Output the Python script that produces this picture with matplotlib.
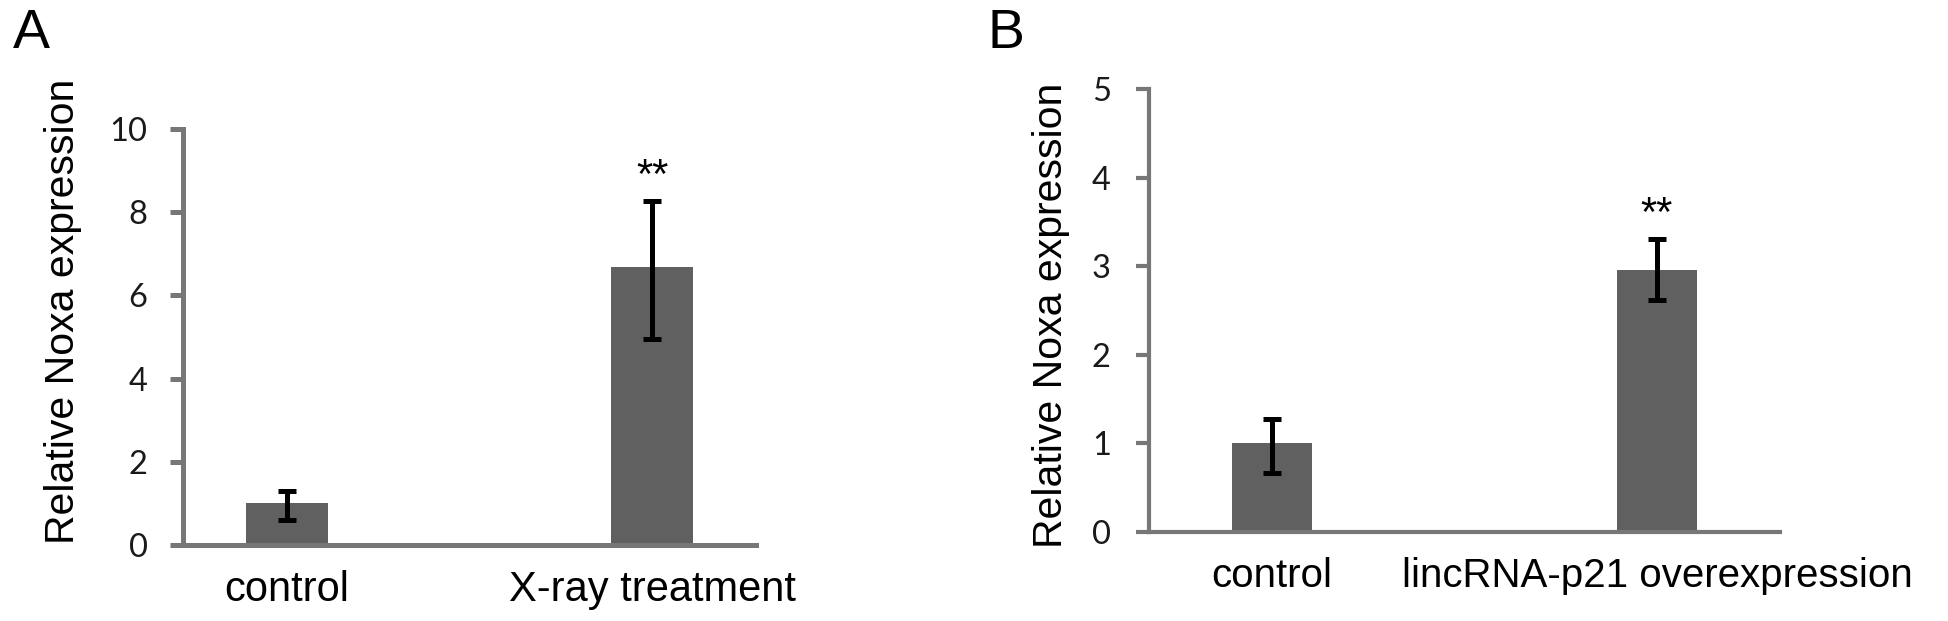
import matplotlib
matplotlib.use("Agg")
import matplotlib.pyplot as plt

# ---- data ----
categories_a = ["control", "X-ray treatment"]
values_a = [1.0, 6.68]
err_low_a = [0.39, 1.72]
err_high_a = [0.31, 1.60]
sig_a = ["", "**"]
yticks_a = [0, 2, 4, 6, 8, 10]

categories_b = ["control", "lincRNA-p21 overexpression"]
values_b = [1.0, 2.96]
err_low_b = [0.33, 0.34]
err_high_b = [0.27, 0.35]
sig_b = ["", "**"]
yticks_b = [0, 1, 2, 3, 4, 5]

W, H = 1949, 621
fig = plt.figure(figsize=(W / 100, H / 100), dpi=100)

TEXT_FONT = ["Liberation Sans", "DejaVu Sans"]
TICK_FONT = ["Lato", "DejaVu Sans"]
BAR_C = "#606060"
AX_C = "#777777"


def panel(rect, cats, vals, elo, ehi, sig, yticks, xlim, width, spine_lw,
          tick_pad, ylab_x, ylab_y, cat_size):
    ax = fig.add_axes(rect)
    x = list(range(len(cats)))
    ax.bar(x, vals, width=width, color=BAR_C, zorder=2)
    ax.errorbar(x, vals, yerr=[elo, ehi], fmt="none", ecolor="black",
                elinewidth=3.6, capsize=6.5, capthick=3.6, zorder=3)
    for xi, v, eh, s in zip(x, vals, ehi, sig):
        if s:
            ax.annotate(s, (xi, v + eh), xytext=(0, 17), textcoords="offset points",
                        ha="center", va="center", fontsize=30,
                        family=TEXT_FONT)
    ax.set_xlim(*xlim)
    ax.set_ylim(yticks[0], yticks[-1])
    ax.set_yticks(yticks)
    ax.set_yticklabels([str(t) for t in yticks], family=TICK_FONT, fontsize=23.5,
                       color="#1a1a1a")
    ax.set_xticks(x)
    ax.set_xticklabels(cats, family=TEXT_FONT, fontsize=cat_size)
    ax.tick_params(axis="x", length=0, pad=18)
    ax.tick_params(axis="y", length=9.5, width=spine_lw, color=AX_C,
                   pad=tick_pad, direction="out")
    for s in ["top", "right"]:
        ax.spines[s].set_visible(False)
    for s in ["left", "bottom"]:
        ax.spines[s].set_color(AX_C)
        ax.spines[s].set_linewidth(spine_lw)
    ax.set_ylabel("Relative Noxa expression", family=TEXT_FONT, fontsize=29.5,
                  va="center")
    ax.yaxis.set_label_coords(ylab_x, ylab_y)
    ax.patch.set_alpha(0)
    return ax


# panel A
panel([183 / W, 1 - 545 / H, 573 / W, 416 / H],
      categories_a, values_a, err_low_a, err_high_a, sig_a, yticks_a,
      (-0.283, 1.283), 0.224, 3.6, 16, -0.21, 0.5625, 30)

# panel B
panel([1149 / W, 1 - 532 / H, 631 / W, 443 / H],
      categories_b, values_b, err_low_b, err_high_b, sig_b, yticks_b,
      (-0.32, 1.32), 0.208, 3.0, 18, -0.155, 0.488, 29)

fig.text(13 / W, 1 - 8 / H, "A", family=TEXT_FONT, fontsize=40, va="top", ha="left")
fig.text(988 / W, 1 - 8 / H, "B", family=TEXT_FONT, fontsize=40, va="top", ha="left")

fig.savefig("out.png", dpi=100, facecolor="white")
